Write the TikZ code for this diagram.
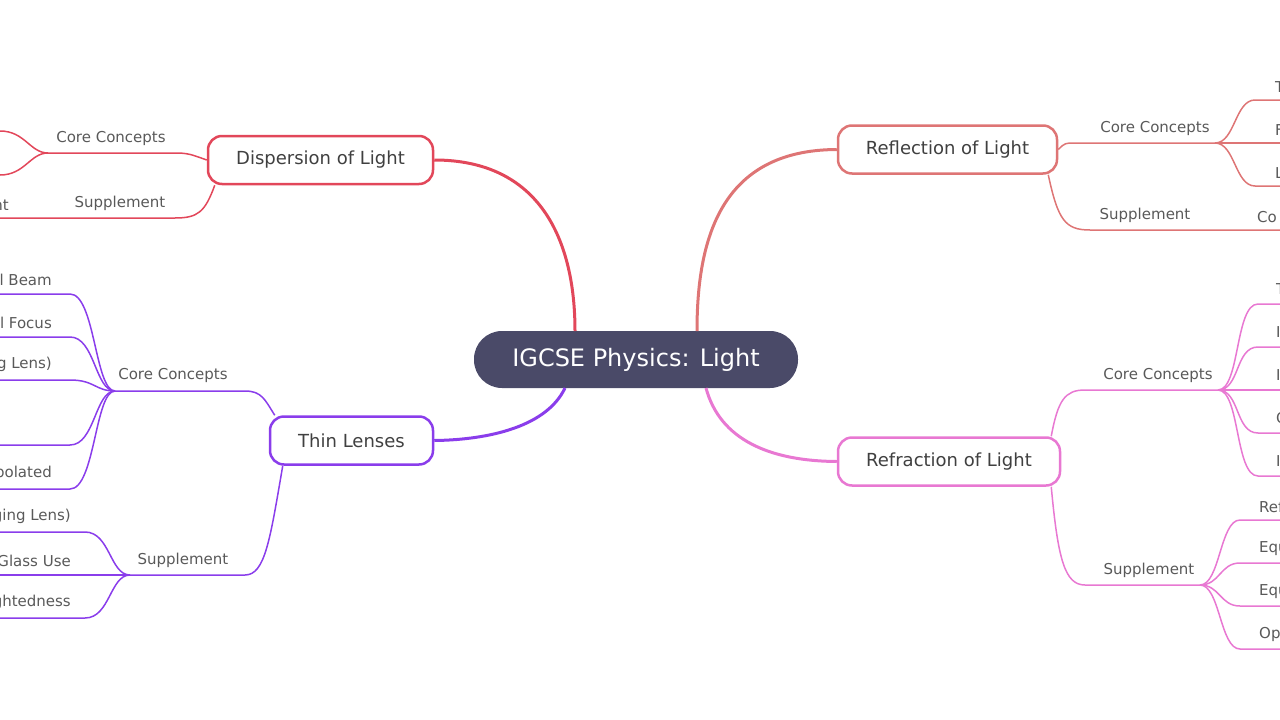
\documentclass[tikz,border=0pt]{standalone}
\usepackage{fontspec}
\setmainfont{DejaVu Sans}
\begin{document}
\begin{tikzpicture}[x=1pt,y=-1pt,
 lbl/.style={text=black!65,font=\fontsize{15}{15}\selectfont,inner sep=0pt},
 topic/.style={draw=#1,line width=2.5pt,fill=white,rounded corners=14pt,minimum height=48pt,text=black!75,font=\fontsize{18}{18}\selectfont},
 br/.style={#1,line width=1.5pt},
 main/.style={#1,line width=3pt}]
\definecolor{cred}{HTML}{E2475A}
\definecolor{csal}{HTML}{DE7575}
\definecolor{cpink}{HTML}{E878D2}
\definecolor{cpur}{HTML}{8A3DEB}
\definecolor{croot}{HTML}{4A4A68}
\useasboundingbox (0,0) rectangle (1280,720);
\clip (0,0) rectangle (1280,720);
\node[fill=croot,rounded corners=28pt,minimum width=324pt,minimum height=57pt,text=white,font=\fontsize{24}{24}\selectfont] (root) at (636,359.5) {IGCSE Physics: Light};
\node[topic=cred,minimum width=225pt] (disp) at (320.5,160) {Dispersion of Light};
\node[topic=csal,minimum width=219pt] (refl) at (947.5,149.5) {Reflection of Light};
\node[topic=cpink,minimum width=222pt] (refr) at (949,461.5) {Refraction of Light};
\node[topic=cpur,minimum width=163pt] (thin) at (351.5,440.5) {Thin Lenses};
% main edges
\draw[main=cred] (575,331) .. controls (575,240) and (540,160) .. (disp.east);
\draw[main=csal] (697,331) .. controls (697,240) and (720,150) .. (refl.west);
\draw[main=cpink] (706,388) .. controls (720,440) and (770,461) .. (refr.west);
\draw[main=cpur] (565,388) .. controls (545,430) and (480,440) .. (thin.east);
% coordinates
\coordinate (dcc) at (48,153); \coordinate (dsu) at (0,218);
\coordinate (rcc) at (1215,143); \coordinate (rsu) at (1280,230);
\coordinate (fcc) at (1218,390); \coordinate (fsu) at (1200,585);
\coordinate (tcc) at (115,391); \coordinate (tsu) at (130,575);
% Dispersion
\draw[br=cred] (disp.west) .. controls (190,154) .. (180,153) -- (dcc);
\node[lbl,anchor=south] (l1) at (111,146) {Core Concepts};
\draw[br=cred] ([xshift=8pt]disp.south west) .. controls (205,212) and (198,218) .. (175,218) -- (dsu);
\node[lbl,anchor=south] (l2) at (120,211) {Supplement};
\node[lbl,anchor=south east] (l3) at (9,211) {nt};
\coordinate (da) at (0,131); \coordinate (db) at (0,175);
\draw[br=cred] (dcc) .. controls (30,153) and (25,131) .. (da);
\draw[br=cred] (dcc) .. controls (30,153) and (25,175) .. (db);
% Reflection
\draw[br=csal] (refl.east) .. controls (1065,143) .. (1075,143) -- (rcc);
\node[lbl,anchor=south] (l4) at (1155,136) {Core Concepts};
\draw[br=csal] ([xshift=-10pt]refl.south east) .. controls (1058,220) and (1065,230) .. (1090,230) -- (rsu);
\node[lbl,anchor=south] (l5) at (1145,223) {Supplement};
\node[lbl,anchor=south west] (l6) at (1257,223) {Co};
\foreach \y/\t in {100/T,143/F,186/L}{
 \coordinate (re\y) at (1280,\y);
 \draw[br=csal] (rcc) .. controls (1235,143) and (1235,\y) .. (1255,\y) -- (re\y);
 \node[lbl,anchor=south west] at (1275,\y-7) {\t};}
% Refraction
\draw[br=cpink] ([xshift=-10pt]refr.north east) .. controls (1058,400) and (1065,390) .. (1085,390) -- (fcc);
\node[lbl,anchor=south] (l7) at (1158,383) {Core Concepts};
\draw[br=cpink] ([xshift=-10pt]refr.south east) .. controls (1058,560) and (1065,585) .. (1085,585) -- (fsu);
\node[lbl,anchor=south] (l8) at (1149,578) {Supplement};
\foreach \y/\t in {304/T,347/I,390/I,433/C,476/I}{
 \coordinate (fe\y) at (1280,\y);
 \draw[br=cpink] (fcc) .. controls (1240,390) and (1235,\y) .. (1258,\y) -- (fe\y);
 \node[lbl,anchor=south west] at (1276,\y-9) {\t};}
\foreach \y/\t in {520/Ref,563/Equ,606/Equ,649/Op}{
 \coordinate (fs\y) at (1280,\y);
 \draw[br=cpink] (fsu) .. controls (1220,585) and (1220,\y) .. (1240,\y) -- (fs\y);
 \node[lbl,anchor=south west] at (1259,\y-7) {\t};}
% Thin lenses
\draw[br=cpur] ([xshift=6pt]thin.north west) .. controls (265,400) and (262,391) .. (245,391) -- (tcc);
\node[lbl,anchor=south] (l9) at (173,383) {Core Concepts};
\draw[br=cpur] ([xshift=14pt]thin.south west) .. controls (270,540) and (265,575) .. (245,575) -- (tsu);
\node[lbl,anchor=south] (l10) at (183,568) {Supplement};
\foreach \y/\t in {294/l Beam,337/l Focus,380/g Lens),445/,489/polated}{
 \coordinate (te\y) at (0,\y);
 \draw[br=cpur] (tcc) .. controls (95,391) and (95,\y) .. (70,\y) -- (te\y);
 \node[lbl,anchor=south east] at (52,\y-8) {\t};}
\foreach \y/\t in {532/ging Lens),575/Glass Use,618/ghtedness}{
 \coordinate (ts\y) at (0,\y);
 \draw[br=cpur] (tsu) .. controls (110,575) and (110,\y) .. (85,\y) -- (ts\y);
 \node[lbl,anchor=south east] at (71,\y-8) {\t};}
\end{tikzpicture}
\end{document}
